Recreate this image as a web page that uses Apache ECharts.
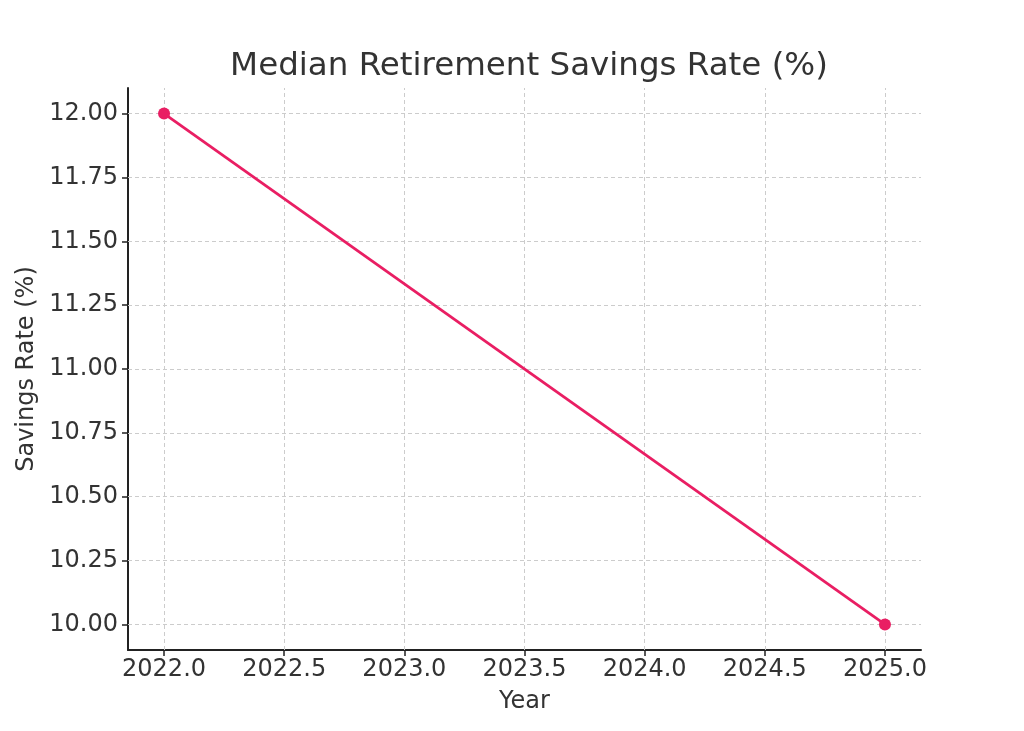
<!DOCTYPE html>
<html>
<head>
<meta charset="utf-8">
<script src="https://cdn.jsdelivr.net/npm/echarts@6/dist/echarts.min.js"></script>
<style>
  html, body { margin: 0; padding: 0; background: #fff; }
  #chart { width: 1024px; height: 731px; }
</style>
</head>
<body>
<div id="chart"></div>
<script>
// data
var years = [2022, 2025];
var savingsRate = [12.0, 10.0];
var xTicks = [2022, 2022.5, 2023, 2023.5, 2024, 2024.5, 2025];
var yTicks = [10, 10.25, 10.5, 10.75, 11, 11.25, 11.5, 11.75, 12];

var chart = echarts.init(document.getElementById('chart'));
var font = 'DejaVu Sans';
var gridLine = { show: true, lineStyle: { color: '#cccccc', type: [4, 3], width: 1 } };

var option = {
  animation: false,
  title: {
    text: 'Median Retirement Savings Rate (%)',
    left: 524,
    top: 45,
    textAlign: 'center',
    textStyle: { fontFamily: font, fontSize: 32.5, fontWeight: 'normal', color: '#333333' }
  },
  grid: { left: 128, top: 88, width: 793, height: 562, containLabel: false },
  xAxis: {
    type: 'value',
    min: 2021.85,
    max: 2025.15,
    name: 'Year',
    nameLocation: 'middle',
    nameGap: 40,
    nameTextStyle: { fontFamily: font, fontSize: 24, color: '#333333' },
    axisLine: { show: true, lineStyle: { color: '#222222', width: 2 } },
    axisTick: { show: true, customValues: xTicks, length: 6, inside: false, lineStyle: { color: '#222222', width: 1.5 } },
    axisLabel: {
      customValues: xTicks,
      fontFamily: font, fontSize: 24, color: '#333333', margin: 8,
      formatter: function (v) { return v.toFixed(1); }
    },
    splitLine: { show: false }
  },
  yAxis: {
    type: 'value',
    min: 9.9,
    max: 12.1,
    name: 'Savings Rate (%)',
    nameLocation: 'middle',
    nameGap: 86,
    nameRotate: 90,
    nameTextStyle: { fontFamily: font, fontSize: 24, color: '#333333' },
    axisLine: { show: true, lineStyle: { color: '#222222', width: 2 } },
    axisTick: { show: true, customValues: yTicks, length: 6, inside: false, lineStyle: { color: '#222222', width: 1.5 } },
    axisLabel: {
      customValues: yTicks,
      fontFamily: font, fontSize: 24, color: '#333333', margin: 10,
      formatter: function (v) { return v.toFixed(2); }
    },
    splitLine: { show: false }
  },
  series: [{
    type: 'line',
    data: years.map(function (y, i) { return [y, savingsRate[i]]; }),
    symbol: 'circle',
    symbolSize: 12,
    lineStyle: { color: '#e91e63', width: 2.8 },
    itemStyle: { color: '#e91e63' },
    z: 3,
    markLine: {
      silent: true,
      symbol: 'none',
      label: { show: false },
      lineStyle: gridLine.lineStyle,
      z: 1,
      data: xTicks.map(function (v) { return { xAxis: v }; })
        .concat(yTicks.map(function (v) { return { yAxis: v }; }))
    }
  }]
};
chart.setOption(option);
</script>
</body>
</html>
